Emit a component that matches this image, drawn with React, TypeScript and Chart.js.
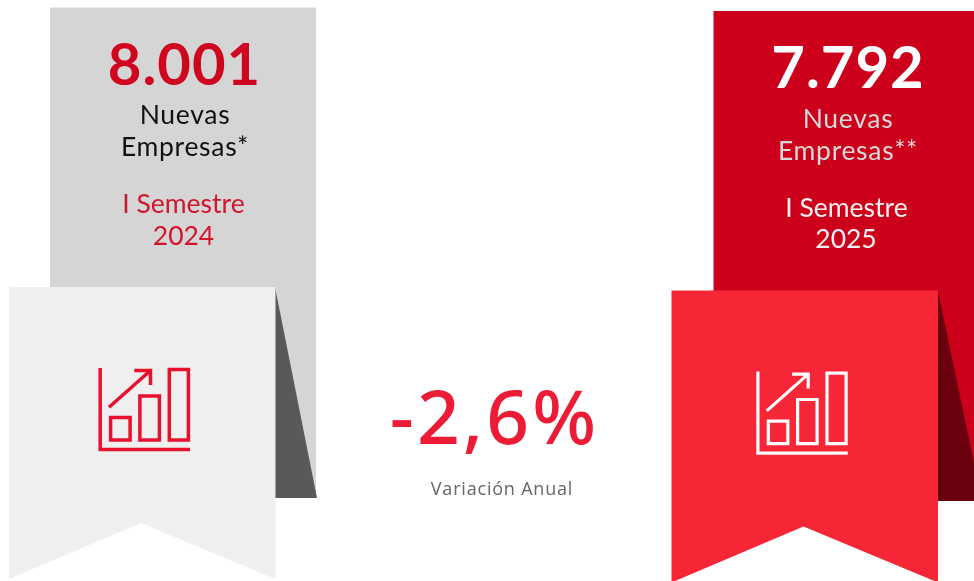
import React, { useEffect, useRef } from "react";
import { Chart, registerables } from "chart.js";

Chart.register(...registerables);

// ---- data ----
const periods = ["I Semestre|2024", "I Semestre|2025"];
const newCompanyLabels = ["8.001", "7.792"];
const subjectLabels = ["Nuevas|Empresas*", "Nuevas|Empresas**"];
const variationLabel = "-2,6%";
const variationCaption = "Variación Anual";

// ---- layout (pixel units of the hidden axes) ----
const W = 974;
const H = 581;
type P = { x: number; y: number };
const poly = (...c: number[][]): P[] => {
  const pts = c.map(([x, y]) => ({ x, y }));
  return [...pts, pts[0]];
};
const rect = (x0: number, y0: number, x1: number, y1: number) =>
  poly([x0, y0], [x1, y0], [x1, y1], [x0, y1]);

const area = (data: P[], color: string) => ({
  data,
  showLine: true,
  fill: "shape",
  backgroundColor: color,
  borderColor: "transparent",
  borderWidth: 1,
  pointRadius: 0,
});
const stroke = (data: P[], color: string, w: number) => ({
  data,
  showLine: true,
  fill: false,
  borderColor: color,
  borderWidth: w,
  borderJoinStyle: "miter",
  borderCapStyle: "butt",
  pointRadius: 0,
});

const icon = (dx: number, dy: number, color: string, w: number) => {
  const o = (pts: number[][]) => pts.map(([x, y]) => ({ x: x + dx, y: y + dy }));
  const box = (a: number, b: number, c: number, d: number) =>
    o([[a, b], [c, b], [c, d], [a, d], [a, b], [c, b]]);
  return [
    stroke(o([[100.2, 368], [100.2, 449.5], [190, 449.5]]), color, w),
    stroke(box(110.6, 417.6, 130.1, 440.1), color, w),
    stroke(box(139.9, 395.9, 159.4, 440.1), color, w),
    stroke(box(169.3, 369.6, 188.4, 440.1), color, w),
    stroke(o([[109, 407.3], [150.5, 370.5]]), color, w),
    stroke(o([[134.3, 370.5], [150.5, 370.5], [150.5, 385]]), color, w),
  ];
};

const ribbon = (x: number, y: number) =>
  poly([x, y], [x + 266.5, y], [x + 266.5, y + 292], [x + 132, y + 236], [x, y + 292]);

const layers = [
  area(rect(50, 7.5, 316, 498), "#d5d5d6"),
  area(poly([275, 287], [317, 498], [275, 498]), "#595959"),
  area(ribbon(9, 287), "#efeff0"),
  ...icon(0, 0, "#e8112d", 3.5),
  area(rect(713.5, 11, 980, 501), "#cc001b"),
  area(poly([938, 291], [982, 501], [938, 501]), "#6b000f"),
  area(ribbon(671.5, 290.5), "#f62637"),
  ...icon(657.7, 3.6, "#ffffff", 3.2),
];

const sans = "Lato";
type T = [string, number, number, string, string, string?];
const texts = (): T[] => {
  const [n0, n1] = newCompanyLabels;
  const [s0a, s0b] = subjectLabels[0].split("|");
  const [s1a, s1b] = subjectLabels[1].split("|");
  const [p0a, p0b] = periods[0].split("|");
  const [p1a, p1b] = periods[1].split("|");
  const big = `bold 58px ${sans}`;
  const mid = `26.5px ${sans}`;
  return [
    [n0, 184.5, 84.5, big, "#d0051f", "1px"],
    [s0a, 185, 123.5, mid, "#111111", "0.7px"],
    [s0b, 185, 156, mid, "#111111", "0.7px"],
    [p0a, 183.5, 213, mid, "#d0152c"],
    [p0b, 183.5, 244.5, mid, "#d0152c"],
    [n1, 848, 87.5, big, "#ffffff", "1px"],
    [s1a, 848, 127.5, mid, "#d8d8da", "0.7px"],
    [s1b, 848, 159.5, mid, "#d8d8da", "0.7px"],
    [p1a, 846.5, 217, mid, "#f8f0f0"],
    [p1b, 846, 248, mid, "#f8f0f0"],
    [variationLabel, 494.5, 443.5, `500 75px "Noto Sans"`, "#ed1c36", "3px"],
    [variationCaption, 502, 494.5, `18px "Open Sans"`, "#666666", "0.8px"],
  ];
};

const textPlugin = {
  id: "labels",
  afterDatasetsDraw(chart: any) {
    const { ctx, scales } = chart;
    ctx.save();
    ctx.textAlign = "center";
    ctx.textBaseline = "alphabetic";
    for (const [s, x, y, font, color, ls] of texts()) {
      ctx.font = font;
      ctx.fillStyle = color;
      ctx.letterSpacing = ls ?? "0px";
      ctx.fillText(s, scales.x.getPixelForValue(x), scales.y.getPixelForValue(y));
    }
    ctx.restore();
  },
};

export default function App() {
  const ref = useRef<HTMLCanvasElement>(null);
  useEffect(() => {
    const chart = new Chart(ref.current as HTMLCanvasElement, {
      type: "scatter",
      data: { datasets: [...layers].reverse() as any },
      options: {
        animation: false,
        responsive: false,
        layout: { padding: 0 },
        plugins: { legend: { display: false }, tooltip: { enabled: false } },
        scales: {
          x: { type: "linear", min: 0, max: W, display: false },
          y: { type: "linear", min: 0, max: H, reverse: true, display: false },
        },
      },
      plugins: [textPlugin],
    });
    return () => chart.destroy();
  }, []);
  return (
    <canvas
      ref={ref}
      width={W}
      height={H}
      style={{ position: "absolute", left: 0, top: 0, display: "block", width: W, height: H }}
    />
  );
}
